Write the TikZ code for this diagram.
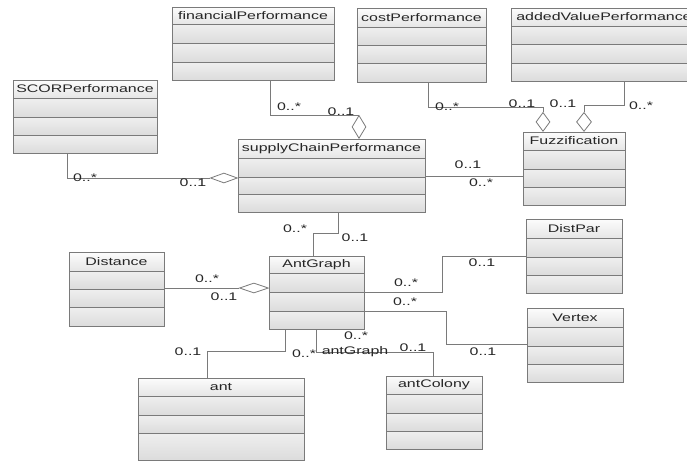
\documentclass[tikz,border=0pt]{standalone}
\usepackage{fontspec}
\setmainfont{Liberation Sans}[FakeStretch=1.45]
\usetikzlibrary{shapes.geometric,fit,calc}
\definecolor{linegray}{HTML}{7A7A7A}
\definecolor{hdtop}{HTML}{FCFCFC}
\definecolor{hdbot}{HTML}{E6E6E6}
\definecolor{cmtop}{HTML}{EFEFEF}
\definecolor{cmbot}{HTML}{DCDCDC}
\tikzset{
  boxline/.style={draw=linegray, line width=0.9pt},
  conn/.style={draw=linegray, line width=0.8pt},
  agg/.style={diamond, draw=linegray, fill=white, inner sep=0pt, line width=0.8pt},
  mult/.style={inner sep=0pt, text=black!85},
  titletext/.style={inner sep=0pt, text=black!85},
  hdshade/.style={top color=hdtop, bottom color=hdbot},
  cmshade/.style={top color=cmtop, bottom color=cmbot}
}
% name, x1, x2, ytop, y1, y2, y3, ybottom, title
\newcommand\umlbox[9]{%
  \shade[hdshade] (#2,#4) rectangle (#3,#5);
  \shade[cmshade] (#2,#5) rectangle (#3,#6);
  \shade[cmshade] (#2,#6) rectangle (#3,#7);
  \shade[cmshade] (#2,#7) rectangle (#3,#8);
  \draw[boxline] (#2,#5) -- (#3,#5);
  \draw[boxline] (#2,#6) -- (#3,#6);
  \draw[boxline] (#2,#7) -- (#3,#7);
  \draw[boxline] (#2,#4) rectangle (#3,#8);
  \node[fit={(#2,#4) (#3,#8)}, inner sep=0pt] (#1) {};
  \node[titletext] (#1-t) at ($(#2,#4)!0.5!(#3,#5)$) {#9};
}
\begin{document}
\begin{tikzpicture}[x=1pt,y=-1pt,font=\fontsize{11}{13}\selectfont]
\clip (0,0) rectangle (687,461);
\fill[white] (0,0) rectangle (687,461);

\umlbox{fp}{172}{334}{7}{24}{43}{62}{80}{financialPerformance}
\umlbox{scor}{13}{157}{80}{98}{117}{135}{153}{SCORPerformance}
\umlbox{scp}{238}{425}{139}{158}{177}{194}{212}{supplyChainPerformance}
\umlbox{cp}{357}{486}{8}{27}{45}{63}{82}{costPerformance}
\umlbox{av}{511}{697}{8}{26}{44}{63}{81}{addedValuePerformance}
\umlbox{fz}{523}{625}{132}{150}{169}{187}{205}{Fuzzification}
\umlbox{dp}{526}{622}{219}{238}{257}{275}{293}{DistPar}
\umlbox{vx}{527}{623}{308}{327}{346}{364}{382}{Vertex}
\umlbox{ac}{386}{482}{376}{394}{413}{431}{449}{antColony}
\umlbox{ds}{69}{164}{252}{271}{289}{307}{326}{Distance}
\umlbox{ag}{269}{364}{256}{273}{292}{311}{329}{AntGraph}
\umlbox{an}{138}{304}{378}{396}{415}{433}{460}{ant}

% aggregation diamonds
\node[agg, minimum width=14pt, minimum height=23pt, anchor=south] (d1) at (359,0 |- scp.north) {};
\node[agg, minimum width=27pt, minimum height=10pt, anchor=east] (d2) at (scp.west |- 0,178) {};
\node[agg, minimum width=14pt, minimum height=19pt, anchor=south] (d3) at (543,0 |- fz.north) {};
\node[agg, minimum width=15pt, minimum height=19pt, anchor=south] (d4) at (584,0 |- fz.north) {};
\node[agg, minimum width=29pt, minimum height=10pt, anchor=east] (d5) at (ag.west |- 0,288) {};

% connectors
\draw[conn] (270,0 |- fp.south) |- (d1.north);
\draw[conn] (67,0 |- scor.south) |- (d2.west);
\draw[conn] (428,0 |- cp.south) |- (543,107) -- (d3.north);
\draw[conn] (624,0 |- av.south) |- (584,105) -- (d4.north);
\draw[conn] (scp.east |- 0,176) -- (fz.west |- 0,176);
\draw[conn] (338,0 |- scp.south) |- (313,233) -- (313,0 |- ag.north);
\draw[conn] (ds.east |- 0,288) -- (d5.west);
\draw[conn] (ag.east |- 0,292) -| (442,256) -- (dp.west |- 0,256);
\draw[conn] (ag.east |- 0,311) -| (446,344) -- (vx.west |- 0,344);
\draw[conn] (285,0 |- ag.south) |- (207,351) -- (207,0 |- an.north);
\draw[conn] (316,0 |- ag.south) |- (433,352) -- (433,0 |- ac.north);

% multiplicities
\node[mult] (m1) at (289,107) {0..*};
\node[mult] (m2) at (341,112) {0..1};
\node[mult] (m3) at (85,178) {0..*};
\node[mult] (m4) at (193,183) {0..1};
\node[mult] (m5) at (447,107) {0..*};
\node[mult] (m6) at (522,104) {0..1};
\node[mult] (m7) at (563,104) {0..1};
\node[mult] (m8) at (641,106) {0..*};
\node[mult] (m9) at (468,165) {0..1};
\node[mult] (m10) at (481,183) {0..*};
\node[mult] (m11) at (295,229) {0..*};
\node[mult] (m12) at (355,238) {0..1};
\node[mult] (m13) at (207,279) {0..*};
\node[mult] (m14) at (224,297) {0..1};
\node[mult] (m15) at (406,283) {0..*};
\node[mult] (m16) at (482,263) {0..1};
\node[mult] (m17) at (405,302) {0..*};
\node[mult] (m18) at (483,352) {0..1};
\node[mult] (m19) at (188,352) {0..1};
\node[mult] (m20) at (304,354) {0..*};
\node[mult] (m21) at (356,336) {0..*};
\node[mult] (m22) at (355,352) {antGraph};
\node[mult] (m23) at (413,348) {0..1};
\end{tikzpicture}
\end{document}
